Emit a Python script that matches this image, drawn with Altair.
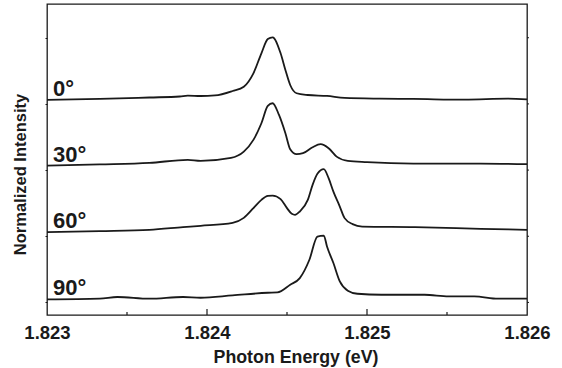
import altair as alt
import pandas as pd

# ---- data (intensities include the vertical offset of each trace)
energy_0 = [1.82300, 1.82333, 1.82364, 1.82383, 1.82388, 1.82396, 1.82405, 1.82416, 1.82423,
            1.82429, 1.82434, 1.82438, 1.82441, 1.82446, 1.82449, 1.82452, 1.82456, 1.82463,
            1.82475, 1.82486, 1.82508, 1.82529, 1.82561, 1.82588, 1.82600]
inten_0 = [3.060, 3.075, 3.097, 3.112, 3.125, 3.120, 3.128, 3.195, 3.260,
           3.462, 3.765, 3.980, 4.006, 3.765, 3.513, 3.286, 3.161, 3.135,
           3.120, 3.090, 3.079, 3.075, 3.064, 3.079, 3.070]

energy_30 = [1.82300, 1.82333, 1.82364, 1.82388, 1.82396, 1.82415, 1.82423, 1.82429, 1.82434,
             1.82438, 1.82441, 1.82445, 1.82449, 1.82452, 1.82456, 1.82460, 1.82466, 1.82471,
             1.82476, 1.82481, 1.82488, 1.82500, 1.82529, 1.82571, 1.82600]
inten_30 = [2.068, 2.086, 2.109, 2.154, 2.139, 2.184, 2.279, 2.456, 2.708,
            2.969, 3.010, 2.833, 2.557, 2.315, 2.240, 2.255, 2.346, 2.391,
            2.331, 2.204, 2.139, 2.119, 2.098, 2.098, 2.089]

energy_60 = [1.82300, 1.82333, 1.82364, 1.82385, 1.82396, 1.82416, 1.82423, 1.82429, 1.82434,
             1.82438, 1.82441, 1.82446, 1.82450, 1.82453, 1.82455, 1.82458, 1.82463, 1.82466,
             1.82469, 1.82473, 1.82476, 1.82479, 1.82483, 1.82486, 1.82491, 1.82497, 1.82530,
             1.82571, 1.82600]
inten_60 = [1.063, 1.078, 1.097, 1.138, 1.158, 1.203, 1.278, 1.425, 1.550,
            1.611, 1.615, 1.561, 1.425, 1.339, 1.324, 1.374, 1.550, 1.777,
            1.943, 2.014, 1.878, 1.675, 1.449, 1.274, 1.183, 1.147, 1.138,
            1.113, 1.097]

energy_90 = [1.82300, 1.82333, 1.82344, 1.82364, 1.82385, 1.82396, 1.82416, 1.82438, 1.82444,
             1.82452, 1.82458, 1.82464, 1.82469, 1.82473, 1.82475, 1.82479, 1.82483, 1.82488,
             1.82494, 1.82509, 1.82536, 1.82551, 1.82567, 1.82582, 1.82600]
inten_90 = [0.045, 0.056, 0.082, 0.056, 0.082, 0.071, 0.106, 0.146, 0.151,
            0.267, 0.368, 0.645, 0.996, 1.011, 0.845, 0.595, 0.317, 0.177,
            0.131, 0.116, 0.116, 0.091, 0.091, 0.056, 0.056]

angles = ["0°", "30°", "60°", "90°"]
x_major = [1.823, 1.824, 1.825, 1.826]
x_minor = [1.8235, 1.8245, 1.8255]
y_ticks = [0, 1, 2, 3, 4]

series = [(angles[0], energy_0, inten_0), (angles[1], energy_30, inten_30),
          (angles[2], energy_60, inten_60), (angles[3], energy_90, inten_90)]

rows = []
for name, ex, iy in series:
    for e, v in zip(ex, iy):
        rows.append({"angle": name, "energy": e, "intensity": v})
df = pd.DataFrame(rows)

lab = pd.DataFrame({"angle": angles,
                    "energy": [s[1][0] for s in series],
                    "intensity": [s[2][0] for s in series]})

W, H = 480, 311
FONT = "Liberation Sans"
INK = "#1a1a1a"

xs = alt.Scale(domain=[1.823, 1.826], nice=False, zero=False)
ys = alt.Scale(domain=[-0.19, 4.51], nice=False, zero=False)

x_axis = alt.Axis(values=x_major, format=".3f", ticks=False, domain=False, grid=False,
                  labelFontSize=18.5, labelFont=FONT, labelFontWeight="bold", labelColor=INK,
                  labelPadding=8, labelFlush=False,
                  title="Photon Energy (eV)", titleFontSize=17.8, titleFont=FONT,
                  titleFontWeight="bold", titleColor=INK,
                  titleX=248.5, titleY=47, titleBaseline="alphabetic", titleAlign="center")
y_axis = alt.Axis(values=y_ticks, labels=False, tickSize=2, tickColor=INK, domain=False, grid=False,
                  title="Normalized Intensity", titleFontSize=16.5, titleFont=FONT,
                  titleFontWeight="bold", titleColor=INK, titleAngle=270,
                  titleX=-22, titleY=170, titleBaseline="alphabetic", titleAlign="center")

lines = alt.Chart(df).mark_line(interpolate="monotone", color=INK, strokeWidth=1.8).encode(
    x=alt.X("energy:Q", scale=xs, axis=x_axis),
    y=alt.Y("intensity:Q", scale=ys, axis=y_axis),
    detail="angle:N",
)

labels = alt.Chart(lab).mark_text(align="left", baseline="alphabetic", dx=6, dy=-4,
                                  fontSize=22, font=FONT, fontWeight="bold", color=INK).encode(
    x=alt.X("energy:Q", scale=xs),
    y=alt.Y("intensity:Q", scale=ys),
    text="angle:N",
)

major = alt.Chart(pd.DataFrame({"e": x_major[1:-1]})).mark_rule(color=INK, strokeWidth=1.2).encode(
    x=alt.X("e:Q", scale=xs), y=alt.value(H), y2=alt.value(H - 6))
minor = alt.Chart(pd.DataFrame({"e": x_minor})).mark_rule(color=INK, strokeWidth=1.2).encode(
    x=alt.X("e:Q", scale=xs), y=alt.value(H), y2=alt.value(H - 3))
right_ticks = alt.Chart(pd.DataFrame({"t": y_ticks})).mark_rule(color=INK, strokeWidth=1).encode(
    y=alt.Y("t:Q", scale=ys), x=alt.value(W), x2=alt.value(W + 2))

chart = alt.layer(lines, labels, major, minor, right_ticks).properties(
    width=W, height=H,
    autosize=alt.AutoSizeParams(type="none"),
    padding={"left": 47, "top": 4, "right": 35, "bottom": 53},
    background="white",
).configure_view(stroke=INK, strokeWidth=1.3)

chart.save("out.html", embed_options={"renderer": "svg", "actions": False})
